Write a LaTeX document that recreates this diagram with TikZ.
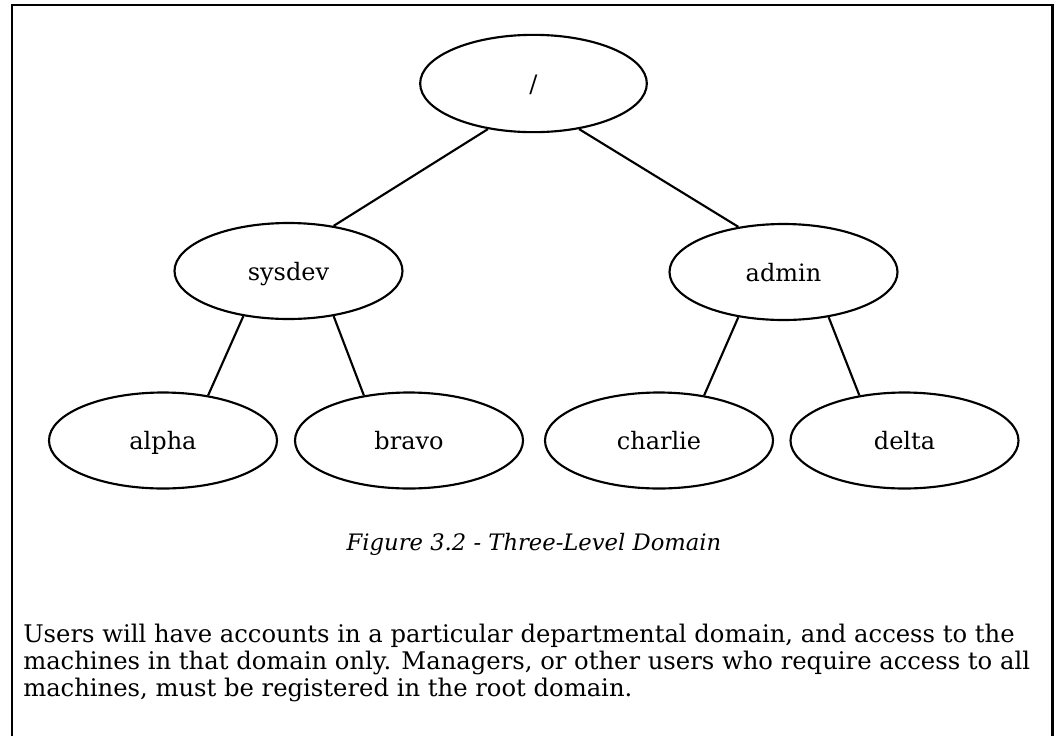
\documentclass[tikz,border=0pt]{standalone}
\usepackage{fontspec}
\setmainfont{DejaVu Serif}
\usetikzlibrary{shapes.geometric}
\tikzset{
  dom/.style={draw, ellipse, line width=1.6pt, minimum width=171pt, minimum height=72pt,
              inner sep=0pt, text height=13.5pt, text depth=0pt,
              font=\fontsize{18}{21}\selectfont},
  link/.style={line width=1.6pt},
  bodyline/.style={anchor=base west, inner sep=0pt, font=\fontsize{18.2}{21}\selectfont},
}
\begin{document}
\begin{tikzpicture}[x=0.75pt, y=-0.75pt]
\useasboundingbox (0,0) rectangle (1057,736);
% open frame around the figure
\draw[line width=2.2pt] (12,736) -- (12,5) -- (1052.5,5) -- (1052.5,736);

% domain tree
\node[dom, minimum width=170pt, minimum height=73pt] (root) at (533.5,83.5) {/};
\node[dom] (sysdev) at (288.5,271) {sysdev};
\node[dom] (admin) at (783.5,272) {admin};
\node[dom] (alpha) at (163,440.5) {alpha};
\node[dom] (bravo) at (409,440.5) {bravo};
\node[dom] (charlie) at (659,440.5) {charlie};
\node[dom] (delta) at (904.5,440.5) {delta};

\draw[link] (root.225) -- (sysdev.45);
\draw[link] (root.315) -- (admin.135);
\draw[link] (sysdev.225) -- (alpha.45);
\draw[link] (sysdev.315) -- (bravo.135);
\draw[link] (admin.225) -- (charlie.45);
\draw[link] (admin.315) -- (delta.135);

% caption
\node[anchor=base, inner sep=0pt, font=\fontsize{17}{20}\selectfont\itshape] (caption) at (534,550)
  {Figure 3.2 - Three-Level Domain};

% explanatory text
\node[bodyline] (line1) at (23,642) {Users will have accounts in a particular departmental domain, and access to the};
\node[bodyline] (line2) at (23,669) {machines in that domain only. Managers, or other users who require access to all};
\node[bodyline] (line3) at (23,696) {machines, must be registered in the root domain.};
\end{tikzpicture}
\end{document}
